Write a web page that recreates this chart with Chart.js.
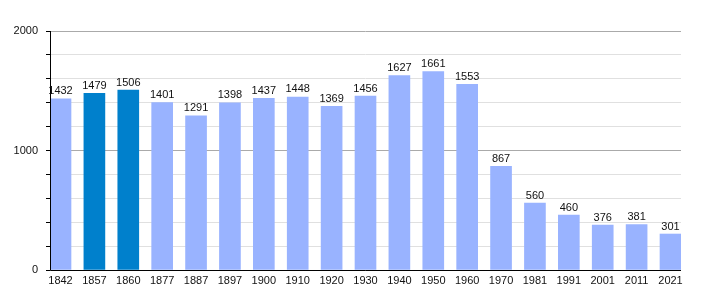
<!DOCTYPE html>
<html>
<head>
<meta charset="utf-8">
<script src="https://cdn.jsdelivr.net/npm/chart.js@4"></script>
<style>
  html, body { margin: 0; padding: 0; background: #fff; }
  #wrap { width: 710px; height: 300px; }
</style>
</head>
<body>
<div id="wrap"><canvas id="grafic"></canvas></div>
<script>
const years = ['1842', '1857', '1860', '1877', '1887', '1897', '1900', '1910', '1920', '1930',
               '1940', '1950', '1960', '1970', '1981', '1991', '2001', '2011', '2021'];
const population = [1432, 1479, 1506, 1401, 1291, 1398, 1437, 1448, 1369, 1456,
                    1627, 1661, 1553, 867, 560, 460, 376, 381, 301];
const highlighted = ['1857', '1860'];
const yTicks = [0, 1000, 2000];

const barColors = years.map(y => highlighted.includes(y) ? '#0080cc' : '#99b3ff');

// labels above the bars + black axis lines drawn over the bars
const valueLabels = {
    id: 'valueLabels',
    afterDatasetsDraw(chart) {
        const ctx = chart.ctx;
        const area = chart.chartArea;
        const meta = chart.getDatasetMeta(0);
        ctx.save();
        ctx.strokeStyle = '#000';
        ctx.lineWidth = 1;
        ctx.beginPath();
        ctx.moveTo(Math.round(area.left) + 0.5, area.top);
        ctx.lineTo(Math.round(area.left) + 0.5, Math.round(area.bottom) + 0.5);
        ctx.lineTo(area.right, Math.round(area.bottom) + 0.5);
        ctx.stroke();

        ctx.font = '11px "Liberation Sans", Arial, sans-serif';
        ctx.fillStyle = '#111';
        ctx.textAlign = 'center';
        ctx.textBaseline = 'bottom';
        meta.data.forEach((bar, i) => {
            ctx.fillText(String(population[i]), bar.x, bar.y - 2);
        });
        ctx.restore();
    }
};

new Chart(document.getElementById('grafic').getContext('2d'), {
    type: 'bar',
    data: {
        datasets: [{
            data: population.map((v, i) => ({ x: i, y: v })),
            backgroundColor: barColors,
            barThickness: 21,
            borderWidth: 0
        }]
    },
    options: {
        responsive: true,
        maintainAspectRatio: false,
        animation: false,
        layout: { padding: { top: 31, right: 29, bottom: 0, left: 0 } },
        plugins: {
            legend: { display: false },
            tooltip: { enabled: false }
        },
        scales: {
            x: {
                type: 'linear',
                offset: false,
                min: -0.31,
                max: years.length - 1 + 0.31,
                afterBuildTicks: scale => {
                    scale.ticks = years.map((_, i) => ({ value: i }));
                },
                afterFit: scale => { scale.height = 30; },
                ticks: {
                    autoSkip: false,
                    maxRotation: 0,
                    padding: 4,
                    color: '#111',
                    font: { family: '"Liberation Sans", Arial, sans-serif', size: 11 },
                    callback: v => years[v]
                },
                grid: { display: false, drawTicks: false, offset: false },
                border: { display: false }
            },
            y: {
                min: 0,
                max: 2000,
                afterFit: scale => { scale.width = 50; },
                ticks: {
                    stepSize: 200,
                    padding: 8,
                    color: '#111',
                    font: { family: '"Liberation Sans", Arial, sans-serif', size: 11 },
                    callback: v => yTicks.includes(v) ? String(v) : ''
                },
                grid: {
                    color: c => (c.tick && c.tick.value % 1000 === 0) ? '#aaaaaa' : '#e0e0e0',
                    tickColor: '#000',
                    tickLength: 4
                },
                border: { display: false }
            }
        }
    },
    plugins: [valueLabels]
});
</script>
</body>
</html>
